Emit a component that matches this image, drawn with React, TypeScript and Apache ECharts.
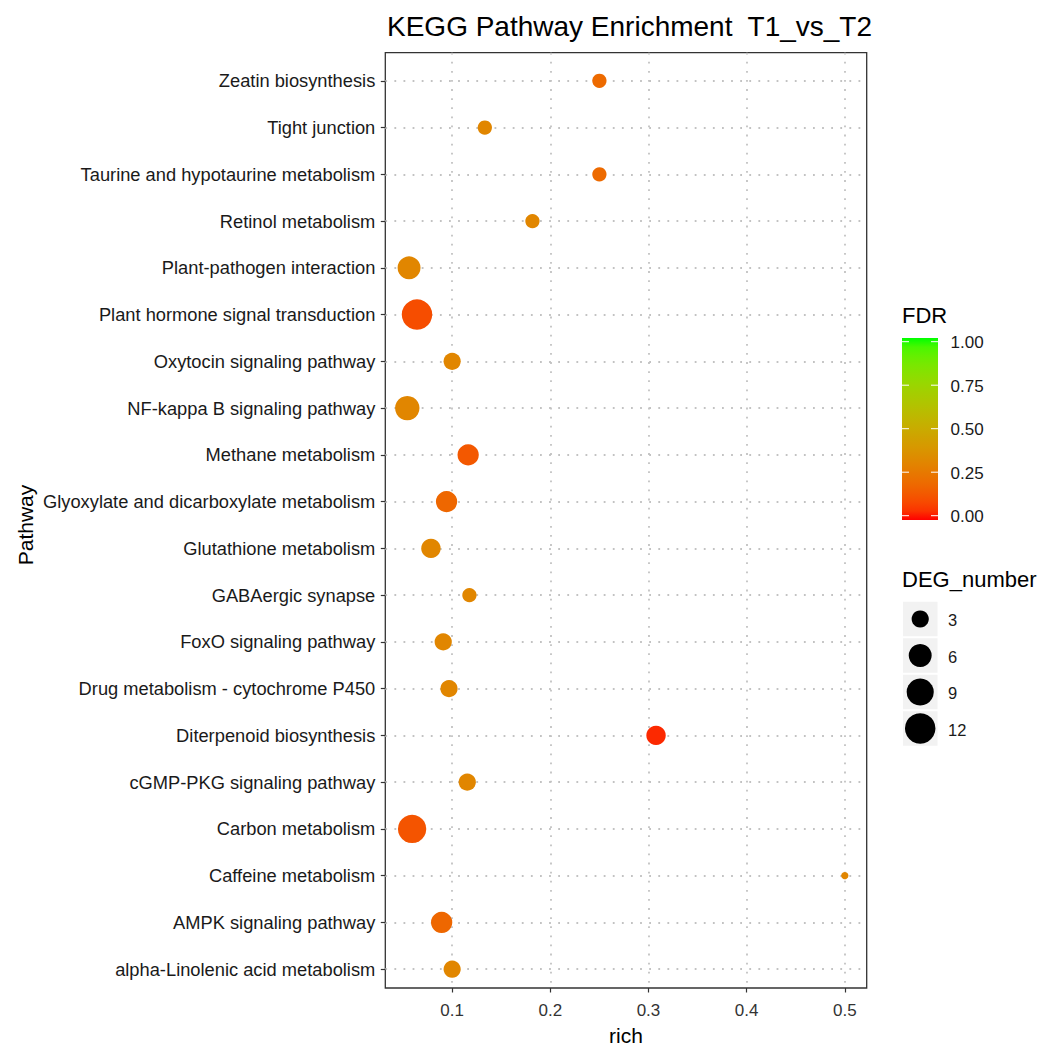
import React, { useEffect, useRef } from "react";
import * as echarts from "echarts";

const pathways = [
  "Zeatin biosynthesis",
  "Tight junction",
  "Taurine and hypotaurine metabolism",
  "Retinol metabolism",
  "Plant-pathogen interaction",
  "Plant hormone signal transduction",
  "Oxytocin signaling pathway",
  "NF-kappa B signaling pathway",
  "Methane metabolism",
  "Glyoxylate and dicarboxylate metabolism",
  "Glutathione metabolism",
  "GABAergic synapse",
  "FoxO signaling pathway",
  "Drug metabolism - cytochrome P450",
  "Diterpenoid biosynthesis",
  "cGMP-PKG signaling pathway",
  "Carbon metabolism",
  "Caffeine metabolism",
  "AMPK signaling pathway",
  "alpha-Linolenic acid metabolism",
];
const richValues = [0.25, 0.1333, 0.25, 0.1818, 0.0561, 0.0642, 0.1, 0.0543, 0.1163, 0.0943, 0.0784, 0.1176, 0.0909, 0.0968, 0.3077, 0.1154, 0.0592, 0.5, 0.0893, 0.1];
const degNumbers = [2, 2, 2, 2, 6, 12, 3, 7, 5, 5, 4, 2, 3, 3, 4, 3, 10, 1, 5, 3];
const fdrValues = [0.2, 0.32, 0.2, 0.32, 0.32, 0.11, 0.32, 0.32, 0.14, 0.19, 0.32, 0.32, 0.32, 0.32, 0.04, 0.32, 0.13, 0.32, 0.19, 0.32];
const xTicks = [0.1, 0.2, 0.3, 0.4, 0.5];
const fdrBreaks = [0, 0.25, 0.5, 0.75, 1];
const degBreaks = [3, 6, 9, 12];

const FONT = "Liberation Sans, Arial, sans-serif";

// ---- Lab interpolation (like ggplot's scale_colour_gradient) ----
function toLin(c: number) { c /= 255; return c <= 0.04045 ? c / 12.92 : Math.pow((c + 0.055) / 1.055, 2.4); }
function toSrgb(c: number) { const v = c <= 0.0031308 ? 12.92 * c : 1.055 * Math.pow(Math.max(c, 0), 1 / 2.4) - 0.055; return Math.round(Math.max(0, Math.min(1, v)) * 255); }
const XN = 0.95047, YN = 1, ZN = 1.08883;
function f(t: number) { return t > 0.008856 ? Math.cbrt(t) : 7.787 * t + 16 / 116; }
function finv(t: number) { return t > 0.206893 ? t * t * t : (t - 16 / 116) / 7.787; }
function rgbToLab(rgb: number[]) {
  const R = toLin(rgb[0]), G = toLin(rgb[1]), B = toLin(rgb[2]);
  const X = 0.4124 * R + 0.3576 * G + 0.1805 * B;
  const Y = 0.2126 * R + 0.7152 * G + 0.0722 * B;
  const Z = 0.0193 * R + 0.1192 * G + 0.9505 * B;
  const fx = f(X / XN), fy = f(Y / YN), fz = f(Z / ZN);
  return [116 * fy - 16, 500 * (fx - fy), 200 * (fy - fz)];
}
function labToHex(lab: number[]) {
  const fy = (lab[0] + 16) / 116, fx = fy + lab[1] / 500, fz = fy - lab[2] / 200;
  const X = XN * finv(fx), Y = YN * finv(fy), Z = ZN * finv(fz);
  const R = 3.2406 * X - 1.5372 * Y - 0.4986 * Z;
  const G = -0.9689 * X + 1.8758 * Y + 0.0415 * Z;
  const B = 0.0557 * X - 0.204 * Y + 1.057 * Z;
  const h = (v: number) => toSrgb(v).toString(16).padStart(2, "0");
  return "#" + h(R) + h(G) + h(B);
}
const LOW = rgbToLab([255, 0, 0]);
const HIGH = rgbToLab([0, 255, 0]);
function gradColor(t: number) {
  return labToHex([0, 1, 2].map((k) => LOW[k] + (HIGH[k] - LOW[k]) * t));
}
const colorStops: string[] = [];
for (let i = 0; i <= 20; i++) colorStops.push(gradColor(i / 20));

// size scale (area-like, as ggplot scale_size)
const SIZE_MIN = 7.3, SIZE_MAX = 30.5, DEG_MIN = 1, DEG_MAX = 12;
function sizeScale(n: number) {
  return SIZE_MIN + (SIZE_MAX - SIZE_MIN) * Math.sqrt((n - DEG_MIN) / (DEG_MAX - DEG_MIN));
}

export default function App() {
  const ref = useRef<HTMLDivElement>(null);
  useEffect(() => {
    if (!ref.current) return;
    const chart = echarts.init(ref.current, undefined, { renderer: "svg" });
    const data = pathways.map((p, i) => [richValues[i], p, fdrValues[i], degNumbers[i]]);

    const gridLine = { show: true, lineStyle: { color: "#c2c2c2", width: 1.8, type: [1.8, 7.3] as any } };

    const barTop = 338, barBottom = 520, barX = 902, barW = 36;
    const v0y = 515.7, v1y = 341.7;
    const graphics: any[] = [];
    graphics.push({ type: "text", x: 902, y: 315, style: { text: "FDR", fontSize: 22, fontFamily: FONT, fill: "#000", align: "left", verticalAlign: "middle" } });
    graphics.push({
      type: "rect", shape: { x: barX, y: barTop, width: barW, height: barBottom - barTop },
      style: { fill: { type: "linear", x: 0, y: 0, x2: 0, y2: 1, colorStops: colorStops.slice().reverse().map((c, i) => ({ offset: i / 20, color: c })) } },
    });
    fdrBreaks.forEach((v) => {
      const y = v0y + (v1y - v0y) * v;
      graphics.push({ type: "line", shape: { x1: barX, y1: y, x2: barX + 7, y2: y }, style: { stroke: "#fff", lineWidth: 1 } });
      graphics.push({ type: "line", shape: { x1: barX + barW - 7, y1: y, x2: barX + barW, y2: y }, style: { stroke: "#fff", lineWidth: 1 } });
      graphics.push({ type: "text", x: 950.5, y: y + 1, style: { text: v.toFixed(2), fontSize: 17, fontFamily: FONT, fill: "#1a1a1a", align: "left", verticalAlign: "middle" } });
    });
    graphics.push({ type: "text", x: 902, y: 579, style: { text: "DEG_number", fontSize: 22, fontFamily: FONT, fill: "#000", align: "left", verticalAlign: "middle" } });
    const keyCenters = [619, 655.5, 692, 728.5];
    degBreaks.forEach((n, i) => {
      const cy = keyCenters[i];
      graphics.push({ type: "rect", shape: { x: 903, y: cy - 17.2, width: 34.5, height: 34.4 }, style: { fill: "#f2f2f2" } });
      graphics.push({ type: "circle", shape: { cx: 920.2, cy, r: sizeScale(n) / 2 }, style: { fill: "#000" } });
      graphics.push({ type: "text", x: 948, y: cy + 1, style: { text: String(n), fontSize: 16.5, fontFamily: FONT, fill: "#1a1a1a", align: "left", verticalAlign: "middle" } });
    });

    const option: any = {
      animation: false,
      backgroundColor: "#fff",
      textStyle: { fontFamily: FONT },
      title: {
        text: "KEGG Pathway Enrichment  T1_vs_T2",
        left: 382,
        top: 7,
        textStyle: { fontSize: 28, fontWeight: "normal", color: "#000", fontFamily: FONT },
      },
      grid: [
        { left: 385.3, right: 1045 - 866.7, top: 52.7, bottom: 1051 - 997.3, show: true, borderColor: "#333", borderWidth: 1.3, backgroundColor: "#fff" },
        { left: 385.3, right: 1045 - 866.7, top: 80.8, bottom: 1051 - 969.2, show: false },
      ],
      xAxis: [
        {
          type: "value", gridIndex: 0, min: 0.0319, max: 0.5223,
          name: "rich", nameLocation: "middle", nameGap: 37,
          nameTextStyle: { fontSize: 21, color: "#000", fontFamily: FONT },
          axisLine: { show: false },
          axisTick: { show: true, length: 4.5, lineStyle: { color: "#333", width: 1.2 }, customValues: xTicks },
          axisLabel: {
            show: true, margin: 14, fontSize: 17, color: "#333", fontFamily: FONT, customValues: xTicks,
            formatter: (v: number) => (xTicks.some((t) => Math.abs(t - v) < 1e-6) ? String(v) : ""),
          },
          splitLine: gridLine,
        },
        { type: "value", gridIndex: 1, min: 0.0319, max: 0.5223, show: false, splitLine: { show: false } },
      ],
      yAxis: [
        { type: "value", gridIndex: 0, min: 0, max: 1, show: false, splitLine: { show: false } },
        {
          type: "category", gridIndex: 1, data: pathways, inverse: true, boundaryGap: false,
          name: "Pathway", nameLocation: "middle", nameGap: 349, nameRotate: 90,
          nameTextStyle: { fontSize: 21, color: "#000", fontFamily: FONT },
          axisLine: { show: false },
          axisTick: { show: true, length: 4.5, lineStyle: { color: "#333", width: 1.2 } },
          axisLabel: { show: true, margin: 10, fontSize: 18.3, color: "#1a1a1a", fontFamily: FONT, interval: 0 },
          splitLine: { ...gridLine, interval: 0 },
        },
      ],
      visualMap: {
        show: false, type: "continuous", min: 0, max: 1, dimension: 2, seriesIndex: 0,
        inRange: { color: colorStops },
      },
      series: [
        {
          type: "scatter", xAxisIndex: 1, yAxisIndex: 1, data,
          encode: { x: 0, y: 1 },
          symbol: "circle",
          symbolSize: (val: any[]) => sizeScale(val[3]),
          itemStyle: { opacity: 1 },
          z: 5,
        },
      ],
      graphic: graphics,
    };
    chart.setOption(option);
    return () => chart.dispose();
  }, []);
  return <div ref={ref} style={{ position: "absolute", left: 0, top: 0, width: 1045, height: 1051 }} />;
}
